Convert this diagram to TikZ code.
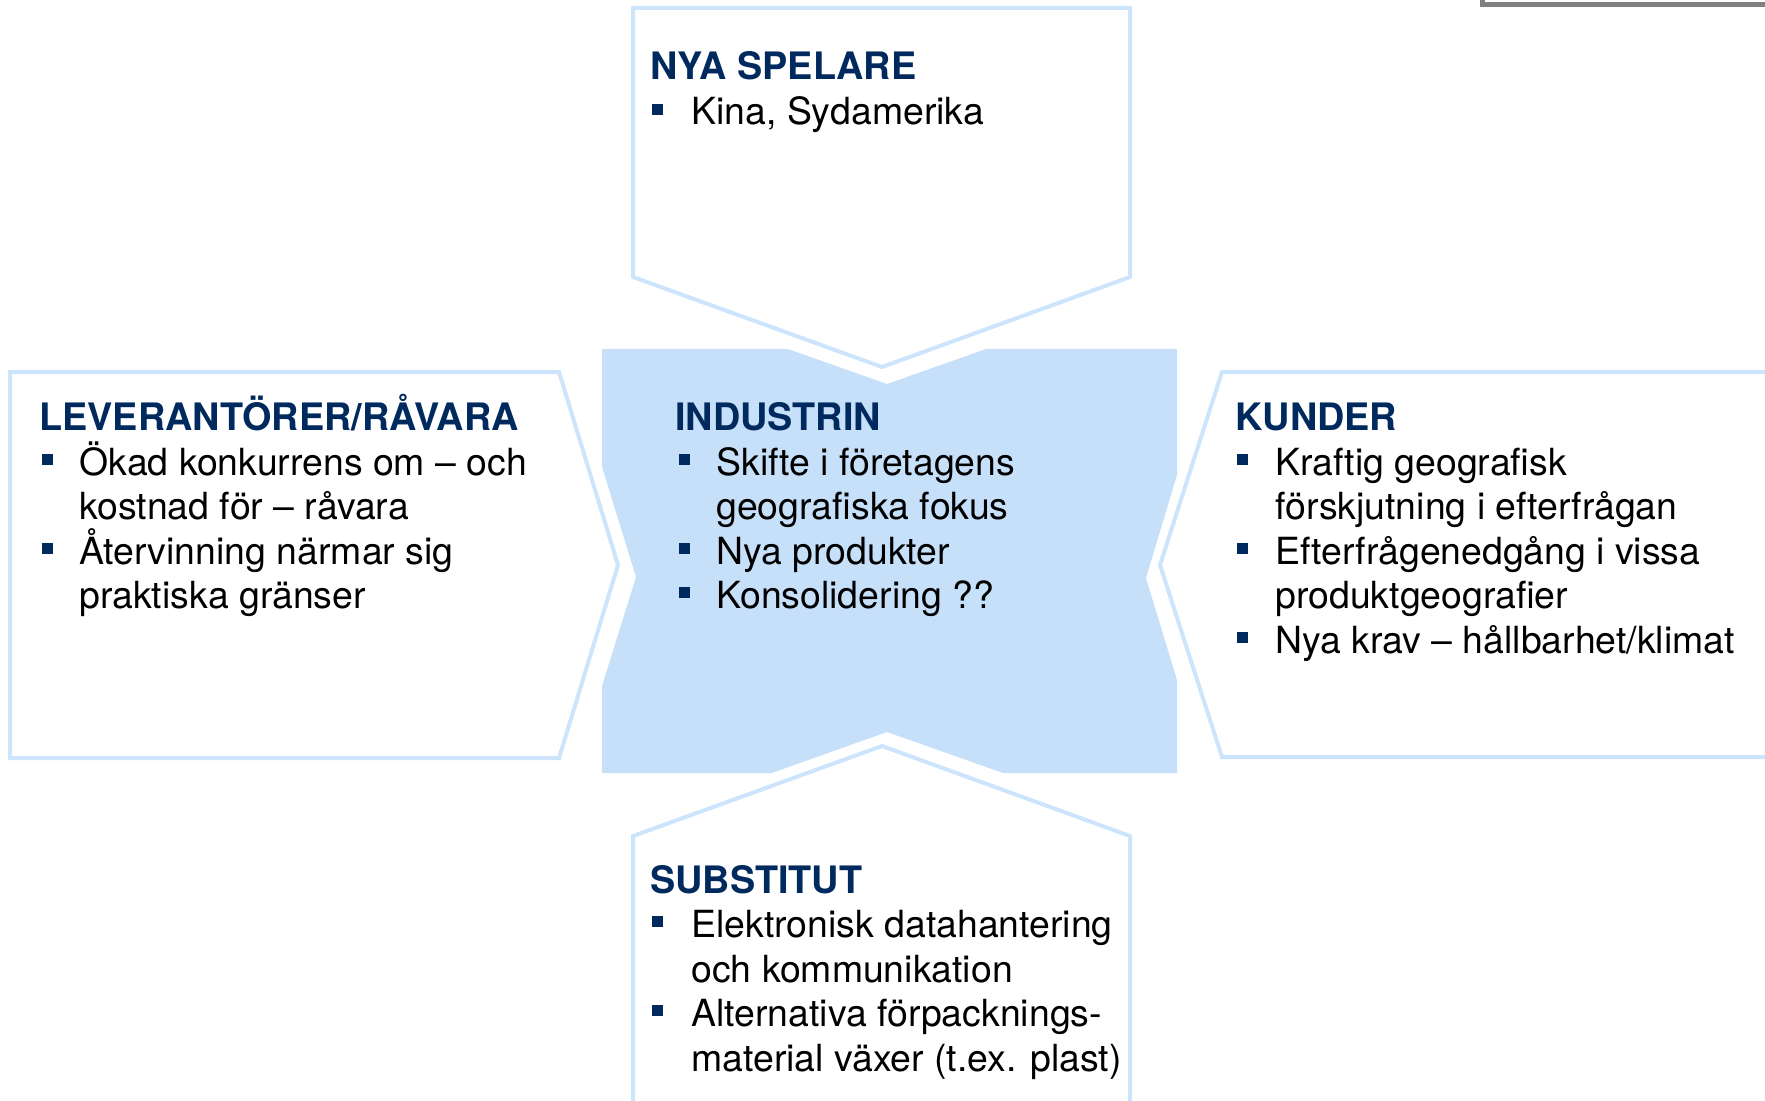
\documentclass[tikz,border=0pt]{standalone}
\usepackage{fontspec}
\setmainfont{TeX Gyre Heros}
\definecolor{navy}{RGB}{0,42,94}
\definecolor{paleblue}{RGB}{198,224,250}
\definecolor{edgeblue}{RGB}{204,228,252}
\begin{document}
\begin{tikzpicture}[x=0.5pt,y=-0.5pt,
  head/.style={anchor=base west, inner sep=0, font=\fontsize{18.9}{22}\selectfont\bfseries, text=navy},
  item/.style={anchor=base west, inner sep=0, font=\fontsize{18.7}{22}\selectfont, text=black},
  sqbullet/.style={anchor=south west, fill=navy, inner sep=0, minimum size=5.4pt, draw=none, rectangle},
  frame/.style={draw=edgeblue, line width=2pt, line join=miter}]
\useasboundingbox (0,0) rectangle (1765,1101);

% corner of a grey frame at the top right
\draw[gray, line width=2.5pt] (1482,-10) -- (1482,5) -- (1780,5);

% central block
\fill[paleblue] (602,349) -- (788,349) -- (887,384) -- (986,349) -- (1177,349)
  -- (1177,475) -- (1146,578) -- (1177,680) -- (1177,773) -- (1003,773)
  -- (887,732) -- (772,773) -- (602,773) -- (602,686) -- (636,577)
  -- (602,467) -- cycle;

% surrounding arrow frames
\draw[frame] (633,8) -- (1130,8) -- (1130,277) -- (882,367) -- (633,277) -- cycle;
\draw[frame] (10,372) -- (559,372) -- (618,565) -- (559,758) -- (10,758) -- cycle;
\draw[frame] (1780,372) -- (1222,372) -- (1160,565) -- (1222,757) -- (1780,757);
\draw[frame] (633,1110) -- (633,836) -- (882,746) -- (1130,836) -- (1130,1110);

% new players
\node[head] (tN) at (650,80) {NYA SPELARE};
\node[sqbullet] (bN1) at (652,115) {};
\node[item] (n1) at (691,125) {Kina, Sydamerika};

% suppliers
\node[head] (tL) at (39,430) {LEVERANTÖRER/RÅVARA};
\node[sqbullet] (bL1) at (42,465) {};
\node[sqbullet] (bL2) at (42,554) {};
\node[item] (l1) at (79,475) {Ökad konkurrens om – och};
\node[item] (l2) at (79,519.5) {kostnad för – råvara};
\node[item] (l3) at (79,564) {Återvinning närmar sig};
\node[item] (l4) at (79,608.5) {praktiska gränser};

% industry
\node[head] (tC) at (675,430) {INDUSTRIN};
\node[sqbullet] (bC1) at (679,465) {};
\node[sqbullet] (bC2) at (679,554) {};
\node[sqbullet] (bC3) at (679,598.5) {};
\node[item] (c1) at (716,475) {Skifte i företagens};
\node[item] (c2) at (716,519.5) {geografiska fokus};
\node[item] (c3) at (716,564) {Nya produkter};
\node[item] (c4) at (716,608.5) {Konsolidering ??};

% customers
\node[head] (tR) at (1235,430) {KUNDER};
\node[sqbullet] (bR1) at (1237,465) {};
\node[sqbullet] (bR2) at (1237,554) {};
\node[sqbullet] (bR3) at (1237,643) {};
\node[item] (r1) at (1275,475) {Kraftig geografisk};
\node[item] (r2) at (1275,519.5) {förskjutning i efterfrågan};
\node[item] (r3) at (1275,564) {Efterfrågenedgång i vissa};
\node[item] (r4) at (1275,608.5) {produktgeografier};
\node[item] (r5) at (1275,653) {Nya krav – hållbarhet/klimat};

% substitutes
\node[head] (tS) at (650,893) {SUBSTITUT};
\node[sqbullet] (bS1) at (652,927.5) {};
\node[sqbullet] (bS2) at (652,1016.5) {};
\node[item] (s1) at (691,937.5) {Elektronisk datahantering};
\node[item] (s2) at (691,982) {och kommunikation};
\node[item] (s3) at (691,1026.5) {Alternativa förpacknings-};
\node[item] (s4) at (691,1071) {material växer (t.ex. plast)};
\end{tikzpicture}
\end{document}
